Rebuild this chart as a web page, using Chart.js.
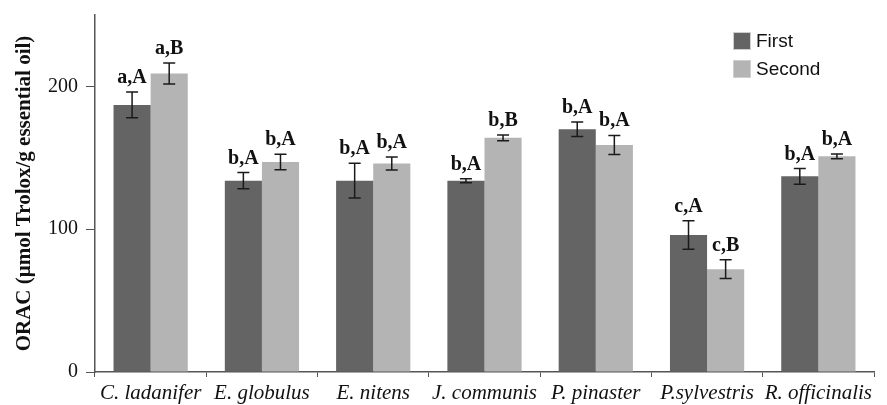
<!DOCTYPE html>
<html>
<head>
<meta charset="utf-8">
<script src="https://cdn.jsdelivr.net/npm/chart.js@4.4.1/dist/chart.umd.min.js"></script>
<style>
  html, body { margin: 0; padding: 0; background: #ffffff; }
  #wrap { width: 887px; height: 405px; position: relative; }
</style>
</head>
<body>
<div id="wrap"><canvas id="c" width="887" height="405"></canvas></div>
<script>
const categories = ['C. ladanifer', 'E. globulus', 'E. nitens', 'J. communis', 'P. pinaster', 'P.sylvestris', 'R. officinalis'];
const seriesNames = ['First', 'Second'];
const firstValues = [187, 134, 134, 134, 170, 96, 137];
const secondValues = [209, 147, 146, 164, 159, 72, 151];
const firstErrors = [9, 5.7, 12.2, 1.4, 5, 10, 5.5];
const secondErrors = [7.4, 5.4, 4.5, 2, 6.7, 6.6, 1.7];
const firstLabels = ['a,A', 'b,A', 'b,A', 'b,A', 'b,A', 'c,A', 'b,A'];
const secondLabels = ['a,B', 'b,A', 'b,A', 'b,B', 'b,A', 'c,B', 'b,A'];
const yTicks = [0, 100, 200];
const yMax = 250;

const colors = ['#646464', '#b4b4b4'];
const errorsBySeries = [firstErrors, secondErrors];
const labelsBySeries = [firstLabels, secondLabels];

const serif = "'Liberation Serif', 'DejaVu Serif', serif";

const errorBarPlugin = {
  id: 'errorBars',
  afterDatasetsDraw(chart) {
    const ctx = chart.ctx;
    const y = chart.scales.y;
    chart.data.datasets.forEach((ds, di) => {
      const meta = chart.getDatasetMeta(di);
      meta.data.forEach((el, i) => {
        const v = ds.data[i];
        const e = errorsBySeries[di][i];
        const yt = y.getPixelForValue(v + e);
        const yb = y.getPixelForValue(v - e);
        const x = el.x;
        ctx.save();
        ctx.strokeStyle = '#1a1a1a';
        ctx.lineWidth = 1.5;
        ctx.beginPath();
        ctx.moveTo(x, yt); ctx.lineTo(x, yb);
        ctx.moveTo(x - 6, yt); ctx.lineTo(x + 6, yt);
        ctx.moveTo(x - 6, yb); ctx.lineTo(x + 6, yb);
        ctx.stroke();
        ctx.fillStyle = '#111111';
        ctx.font = 'bold 20px ' + serif;
        ctx.textAlign = 'center';
        ctx.textBaseline = 'alphabetic';
        ctx.fillText(labelsBySeries[di][i], x, yt - 9);
        ctx.restore();
      });
    });
  }
};

const legendPlugin = {
  id: 'customLegend',
  afterDraw(chart) {
    const ctx = chart.ctx;
    ctx.save();
    chart.data.datasets.forEach((ds, di) => {
      const bx = 733, by = 32 + di * 28;
      ctx.fillStyle = ds.backgroundColor;
      ctx.fillRect(bx, by, 18, 18);
      ctx.strokeStyle = '#cfcfcf';
      ctx.lineWidth = 1;
      ctx.strokeRect(bx + 0.5, by + 0.5, 17, 17);
      ctx.fillStyle = '#111111';
      ctx.font = "19px 'Liberation Sans', Arial, sans-serif";
      ctx.textAlign = 'left';
      ctx.textBaseline = 'middle';
      ctx.fillText(ds.label, bx + 23, by + 10);
    });
    ctx.restore();
  }
};

new Chart(document.getElementById('c'), {
  type: 'bar',
  data: {
    labels: categories,
    datasets: [
      { label: seriesNames[0], data: firstValues, backgroundColor: colors[0] },
      { label: seriesNames[1], data: secondValues, backgroundColor: colors[1] }
    ]
  },
  options: {
    responsive: false,
    animation: false,
    events: [],
    layout: { padding: { top: 15, right: 13, left: 0, bottom: 0 } },
    datasets: { bar: { categoryPercentage: 0.667, barPercentage: 1.0 } },
    plugins: { legend: { display: false }, tooltip: { enabled: false } },
    scales: {
      x: {
        afterFit(s) { s.height = 33; s.paddingLeft = 0; s.paddingRight = 0; },
        grid: { display: true, offset: true, drawOnChartArea: false, tickLength: 5, color: '#555555', lineWidth: 1 },
        border: { display: true, color: '#555555', width: 1.5 },
        ticks: { color: '#111111', font: { family: serif, size: 21, style: 'italic' }, padding: 4, maxRotation: 0, autoSkip: false }
      },
      y: {
        min: 0,
        max: yMax,
        afterFit(s) { s.width = 95; s.paddingTop = 0; s.paddingBottom = 0; },
        afterBuildTicks(s) { s.ticks = yTicks.map(v => ({ value: v })); },
        grid: { display: true, drawOnChartArea: false, tickLength: 9, color: '#555555', lineWidth: 1 },
        border: { display: true, color: '#555555', width: 1.5 },
        ticks: { color: '#111111', font: { family: serif, size: 20 }, padding: 8 },
        title: {
          display: true,
          text: 'ORAC (μmol Trolox/g essential oil)',
          color: '#111111',
          font: { family: serif, size: 21, weight: 'bold' },
          padding: { top: 12, bottom: 0 }
        }
      }
    }
  },
  plugins: [errorBarPlugin, legendPlugin]
});
</script>
</body>
</html>
